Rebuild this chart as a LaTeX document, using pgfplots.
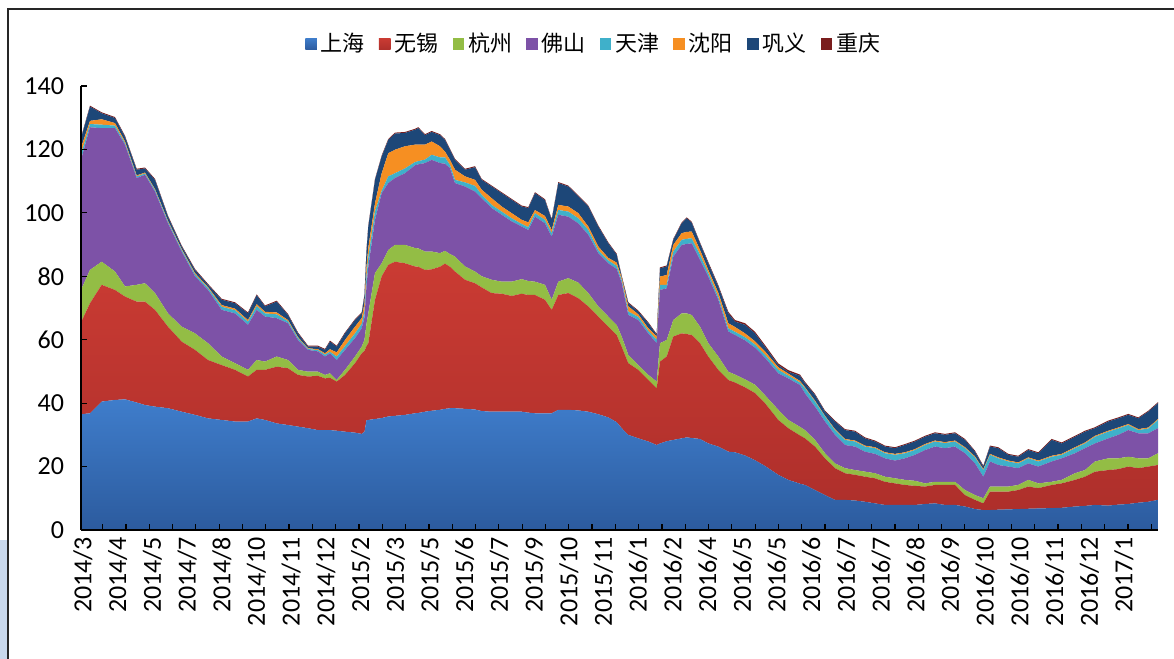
\documentclass[border=0pt]{standalone}
\usepackage{pgfplots}
\pgfplotsset{compat=1.18}
\usepackage{pgfplotstable}
\usepackage{fontspec}
\setmainfont{Carlito}
\newfontfamily\cjk{Noto Sans CJK SC}
\definecolor{cSHt}{HTML}{3F7DCB}
\definecolor{cSHb}{HTML}{2C5B9E}
\definecolor{cSH}{HTML}{3670B8}
\definecolor{cWXt}{HTML}{CA3B33}
\definecolor{cWXb}{HTML}{AE2F2B}
\definecolor{cWX}{HTML}{C0382F}
\definecolor{cHZ}{HTML}{93BD45}
\definecolor{cFS}{HTML}{7D52A7}
\definecolor{cTJ}{HTML}{3FB0CA}
\definecolor{cSY}{HTML}{F68F22}
\definecolor{cGY}{HTML}{1D4778}
\definecolor{cCQ}{HTML}{7A1D1D}
\definecolor{cBG}{HTML}{C9D8EC}

% cumulative tops: B=上海, R=+无锡, G=+杭州, P=+佛山, C=+天津, O=+沈阳, N=+巩义; K=重庆 (own value)
\pgfplotstableread{
x B R G P C O N K
81 36.5 65.5 75.7 116.7 118.5 120.5 123.5 0.3
90 36.8 71.5 82.0 127.0 128.0 129.0 133.5 0.3
101.7 40.5 77.3 84.6 126.7 127.8 129.5 131.4 0.3
115 41.0 75.7 81.5 126.7 127.5 128.3 129.9 0.3
125 41.2 73.6 76.8 121.5 122.0 122.5 124.0 0.3
136.7 40.2 72.0 77.3 111.0 111.5 111.8 113.6 0.3
145 39.4 72.0 77.8 112.0 112.4 112.7 114.0 0.3
155 38.9 69.4 74.7 106.7 107.2 107.5 110.4 0.3
168 38.4 64.1 68.3 96.7 97.2 97.5 98.8 0.3
181.7 37.3 59.4 64.1 87.8 88.3 88.6 89.4 0.3
195 36.3 56.8 62.0 80.0 80.6 81.0 82.0 0.3
208 35.2 53.6 58.9 75.7 76.3 76.6 77.3 0.3
221.7 34.7 52.0 54.7 69.4 70.4 70.9 72.6 0.3
235 34.2 50.5 52.6 68.3 69.3 69.8 71.5 0.3
248 34.2 48.4 50.5 64.7 65.7 66.2 68.3 0.3
256.7 35.2 50.5 53.6 69.4 70.6 71.2 74.0 0.3
265 34.7 50.5 53.1 67.3 68.3 68.8 70.5 0.3
276.7 33.6 51.5 54.7 66.8 68.0 68.6 72.0 0.3
288 33.1 51.0 53.6 65.2 65.8 66.2 67.8 0.3
298 32.6 48.9 50.5 59.9 60.5 60.8 62.0 0.3
308 32.1 48.4 49.9 56.8 57.1 57.3 57.8 0.3
318 31.5 48.6 49.9 56.3 56.7 57.0 57.8 0.3
325 31.5 47.8 48.9 54.7 55.3 55.7 56.8 0.3
330 31.5 48.0 49.4 55.7 56.2 57.0 59.4 0.3
336.7 31.3 46.8 47.3 53.6 54.7 56.0 57.8 0.3
345 31.0 48.9 50.5 56.8 58.0 59.9 62.0 0.3
355 30.7 52.6 54.7 60.5 62.0 64.1 66.2 0.3
361.7 30.3 55.7 57.8 63.6 65.0 66.8 68.3 0.3
364.5 31.0 56.5 60.0 67.0 69.0 71.5 74.0 0.3
366.5 34.6 58.0 65.0 77.0 80.0 83.0 88.0 0.3
368.3 34.7 58.9 68.3 83.0 86.0 89.0 95.7 0.3
375 35.0 72.6 81.0 97.8 100.5 103.0 110.4 0.3
381.7 35.3 80.0 84.1 106.2 107.0 112.5 117.8 0.3
388.3 35.8 83.6 88.3 109.4 111.5 118.8 123.0 0.3
395 36.0 84.6 89.9 111.0 112.5 119.9 125.0 0.3
405 36.3 84.1 89.9 112.5 114.0 121.0 125.2 0.3
415 36.8 83.1 88.9 115.0 116.0 121.5 126.2 0.3
418.3 36.9 83.0 88.8 115.3 116.3 121.5 126.7 0.3
425 37.3 82.0 87.8 115.7 116.8 121.5 124.5 0.3
431.7 37.6 82.2 87.8 116.7 118.3 122.5 125.5 0.3
440 37.9 83.0 87.3 115.7 117.5 121.0 124.5 0.3
445 38.2 84.0 88.0 115.5 117.5 119.3 123.0 0.3
450 38.4 83.0 87.0 114.1 115.1 116.7 119.9 0.3
455 38.4 81.5 86.2 109.4 110.4 113.6 116.7 0.3
465 38.2 78.9 83.1 108.3 109.6 111.5 113.6 0.3
475 38.0 77.8 81.5 106.7 108.5 110.4 114.4 0.3
481.7 37.5 76.5 80.0 104.6 105.7 107.3 110.4 0.3
491.7 37.3 74.7 78.9 101.5 102.5 104.6 108.3 0.3
501.7 37.3 74.5 78.3 99.4 100.4 102.0 106.2 0.3
511.7 37.3 73.8 78.3 97.3 98.3 99.9 104.1 0.3
521.7 37.3 74.5 79.1 95.7 96.5 97.8 102.0 0.3
528.3 37.0 74.1 78.5 94.6 95.5 97.0 101.5 0.3
535 36.8 74.1 78.3 98.8 99.9 100.9 106.2 0.3
545 36.8 72.6 77.3 96.7 97.8 99.0 104.0 0.3
551.7 36.8 69.4 72.6 92.5 93.6 94.6 97.8 0.3
558.3 37.9 74.1 78.3 99.4 100.9 102.5 109.4 0.3
568.3 37.9 74.7 79.4 98.8 100.4 102.0 108.3 0.3
578.3 37.7 73.1 78.0 96.7 98.3 99.9 105.2 0.3
588.3 37.3 70.5 74.7 93.1 94.6 95.7 102.0 0.3
598.3 36.5 67.3 70.5 87.3 88.2 89.4 95.7 0.3
608.3 35.5 64.1 67.3 84.1 85.0 85.8 90.4 0.3
616.7 34.0 61.5 64.6 82.3 83.3 84.3 86.8 0.3
621.7 32.1 57.8 61.0 78.0 78.8 79.5 79.9 0.3
628.3 30.0 52.6 55.2 67.8 68.9 70.5 71.5 0.3
638.3 28.9 50.5 52.0 66.2 67.2 68.0 68.9 0.3
648.3 27.9 47.3 48.9 62.0 62.8 63.6 65.2 0.3
656.7 26.8 44.7 46.8 58.9 60.0 61.0 61.5 0.3
660 27.3 53.1 58.9 75.7 77.3 79.9 82.5 0.3
666.7 28.0 54.7 59.9 76.2 77.3 80.4 83.1 0.3
673.3 28.4 61.0 66.2 86.2 87.8 89.9 91.5 0.3
681.7 28.9 62.0 68.3 89.9 91.5 93.6 96.7 0.3
686.7 29.2 61.8 68.3 90.2 91.8 94.0 98.3 0.3
691.7 29.0 61.5 67.8 90.4 92.0 94.1 96.9 0.3
700 28.7 58.9 64.1 85.2 86.8 88.3 90.4 0.3
708.3 27.3 54.7 58.9 79.9 81.0 82.0 84.1 0.4
718.3 26.3 50.5 54.7 72.6 73.5 74.8 76.8 0.4
728.3 24.7 47.3 49.9 62.6 63.6 65.2 68.3 0.5
735 24.5 46.5 49.0 61.5 62.5 64.0 65.7 0.5
745 23.5 45.0 47.5 59.8 60.8 62.0 64.7 0.5
755 22.0 43.2 45.8 57.5 58.5 59.5 62.0 0.5
765 20.2 40.0 42.5 54.3 55.3 56.3 57.8 0.5
778.3 17.4 34.7 37.9 49.4 50.5 51.3 52.0 0.5
788.3 15.8 32.1 34.7 47.8 48.7 49.3 49.9 0.5
800 14.6 29.8 32.5 45.7 46.5 47.0 48.6 0.4
805 14.2 28.9 31.5 43.1 44.7 45.0 46.3 0.4
815 12.6 26.3 28.4 38.9 40.5 40.8 42.6 0.3
825 11.0 22.6 24.2 34.2 35.8 36.0 37.3 0.3
835 9.5 19.5 21.0 30.0 31.5 31.8 34.2 0.3
845 9.5 17.9 19.5 26.8 28.4 28.7 31.5 0.3
855 9.3 17.4 18.9 26.3 27.9 28.2 31.0 0.3
865 8.9 16.8 18.4 24.7 26.3 26.6 28.9 0.3
875 8.4 16.3 17.9 24.0 25.8 26.1 27.9 0.3
885 7.9 15.2 16.8 22.6 24.2 24.5 26.3 0.3
895 7.9 14.7 16.3 21.9 23.7 24.0 25.8 0.3
905 7.9 14.2 15.8 22.6 24.2 24.5 26.8 0.3
915 7.9 13.9 15.5 23.7 25.2 25.5 27.9 0.3
925 8.2 13.7 14.7 25.2 26.8 27.1 29.4 0.3
935 8.4 14.2 15.2 26.3 27.9 28.2 30.5 0.3
945 7.9 14.2 15.2 25.8 27.4 27.7 30.0 0.3
955 7.9 14.2 15.2 26.3 27.9 28.2 30.5 0.3
965 7.4 11.0 12.6 24.2 25.8 26.1 28.4 0.3
975 6.6 9.5 11.0 21.0 22.9 23.2 24.7 0.3
983.3 6.3 8.4 10.0 16.8 18.9 19.2 20.0 0.3
990 6.3 12.1 13.7 21.6 23.7 24.0 26.3 0.3
998.3 6.4 12.1 13.7 20.5 22.6 22.9 25.8 0.3
1008.3 6.5 12.1 13.7 20.0 21.6 21.9 23.7 0.3
1018.3 6.6 12.6 14.2 19.5 21.0 21.3 23.1 0.3
1028.3 6.7 13.7 15.8 21.0 22.6 22.9 25.2 0.3
1038.3 6.8 13.2 14.7 20.0 21.6 21.9 24.2 0.3
1051.7 6.9 14.2 15.2 21.6 23.1 23.4 28.4 0.3
1061.7 7.0 14.7 15.8 22.6 23.7 24.0 27.3 0.3
1075 7.4 15.8 17.9 24.2 25.8 26.1 29.4 0.3
1085 7.6 16.8 18.9 25.8 27.3 27.6 31.0 0.3
1095 7.9 18.4 21.6 27.3 29.4 29.7 32.1 0.3
1108.3 7.7 18.9 22.6 28.9 31.0 31.3 34.2 0.3
1118.3 8.0 19.2 22.6 30.0 32.0 32.3 35.2 0.3
1128.3 8.2 20.0 23.1 31.5 33.1 33.4 36.3 0.3
1138.3 8.6 19.5 22.6 30.5 31.5 31.8 35.2 0.3
1148.3 8.9 20.0 22.6 30.5 32.0 32.3 37.3 0.3
1158 9.5 20.5 24.2 32.1 34.7 35.0 40.0 0.3
}\data
\pgfplotstablecreatecol[expr={\thisrow{R}-\thisrow{B}}]{wx}{\data}
\pgfplotstablecreatecol[expr={\thisrow{G}-\thisrow{R}}]{hz}{\data}
\pgfplotstablecreatecol[expr={\thisrow{P}-\thisrow{G}}]{fs}{\data}
\pgfplotstablecreatecol[expr={\thisrow{C}-\thisrow{P}}]{tj}{\data}
\pgfplotstablecreatecol[expr={\thisrow{O}-\thisrow{C}}]{sy}{\data}
\pgfplotstablecreatecol[expr={\thisrow{N}-\thisrow{O}}]{gy}{\data}

\begin{document}
\begin{tikzpicture}
\path[use as bounding box] (0pt,0pt) rectangle (587pt,329.5pt);
\fill[white] (0pt,0pt) rectangle (587pt,329.5pt);
\fill[cBG] (0pt,0pt) rectangle (3.5pt,59.5pt);
\draw[line width=1.2pt, black!85] (4pt,-1pt) -- (4pt,325pt) -- (588pt,325pt);
\begin{axis}[
  at={(40.5pt,64.5pt)}, anchor=south west,
  width=538.5pt, height=222pt, scale only axis,
  xmin=81, xmax=1158, ymin=0, ymax=140,
  axis lines=left,
  axis line style={-, black, line width=0.6pt},
  axis on top,
  stack plots=y, area style,
  ytick={0,20,...,140},
  xtick={102.7,126,...,1158}, xticklabels={},
  extra x ticks={83,117.7,152.4,187.1,221.8,256.5,291.2,325.9,360.6,395.3,430,464.7,499.4,534.1,568.8,603.5,638.2,672.9,707.6,742.3,777,811.7,846.4,881.1,915.8,950.5,985.2,1019.9,1054.6,1089.3,1124},
  extra x tick labels={2014/3,2014/4,2014/5,2014/7,2014/8,2014/10,2014/11,2014/12,2015/2,2015/3,2015/5,2015/6,2015/7,2015/9,2015/10,2015/11,2016/1,2016/2,2016/4,2016/5,2016/5,2016/6,2016/7,2016/7,2016/8,2016/9,2016/10,2016/10,2016/11,2016/12,2017/1},
  extra x tick style={major tick length=0pt, xticklabel style={rotate=90, anchor=east}},
  tick align=inside, major tick length=3pt,
  tick style={black, line width=0.6pt},
  ticklabel style={font=\fontsize{13}{13}\selectfont},
  /pgf/number format/assume math mode=true,
  yticklabel style={xshift=-5pt},
  legend columns=8,
  legend style={at={(0.477,1.0946)}, anchor=center, draw=none, fill=none,
    font=\cjk\fontsize{11}{11}\selectfont,
    /tikz/every even column/.append style={column sep=5pt}},
  legend image code/.code={\path[#1,draw=none] (0pt,-2.9pt) rectangle (5.8pt,2.9pt);},
]
\addplot[draw=none, top color=cSHt, bottom color=cSHb] table[x=x,y=B]{\data} \closedcycle;
\addlegendentry{上海}
\addplot[draw=none, top color=cWXt, bottom color=cWXb] table[x=x,y=wx]{\data} \closedcycle;
\addlegendentry{无锡}
\addplot[draw=none, fill=cHZ] table[x=x,y=hz]{\data} \closedcycle;
\addlegendentry{杭州}
\addplot[draw=none, fill=cFS] table[x=x,y=fs]{\data} \closedcycle;
\addlegendentry{佛山}
\addplot[draw=none, fill=cTJ] table[x=x,y=tj]{\data} \closedcycle;
\addlegendentry{天津}
\addplot[draw=none, fill=cSY] table[x=x,y=sy]{\data} \closedcycle;
\addlegendentry{沈阳}
\addplot[draw=none, fill=cGY] table[x=x,y=gy]{\data} \closedcycle;
\addlegendentry{巩义}
\addplot[draw=none, fill=cCQ] table[x=x,y=K]{\data} \closedcycle;
\addlegendentry{重庆}
\end{axis}
\end{tikzpicture}
\end{document}
